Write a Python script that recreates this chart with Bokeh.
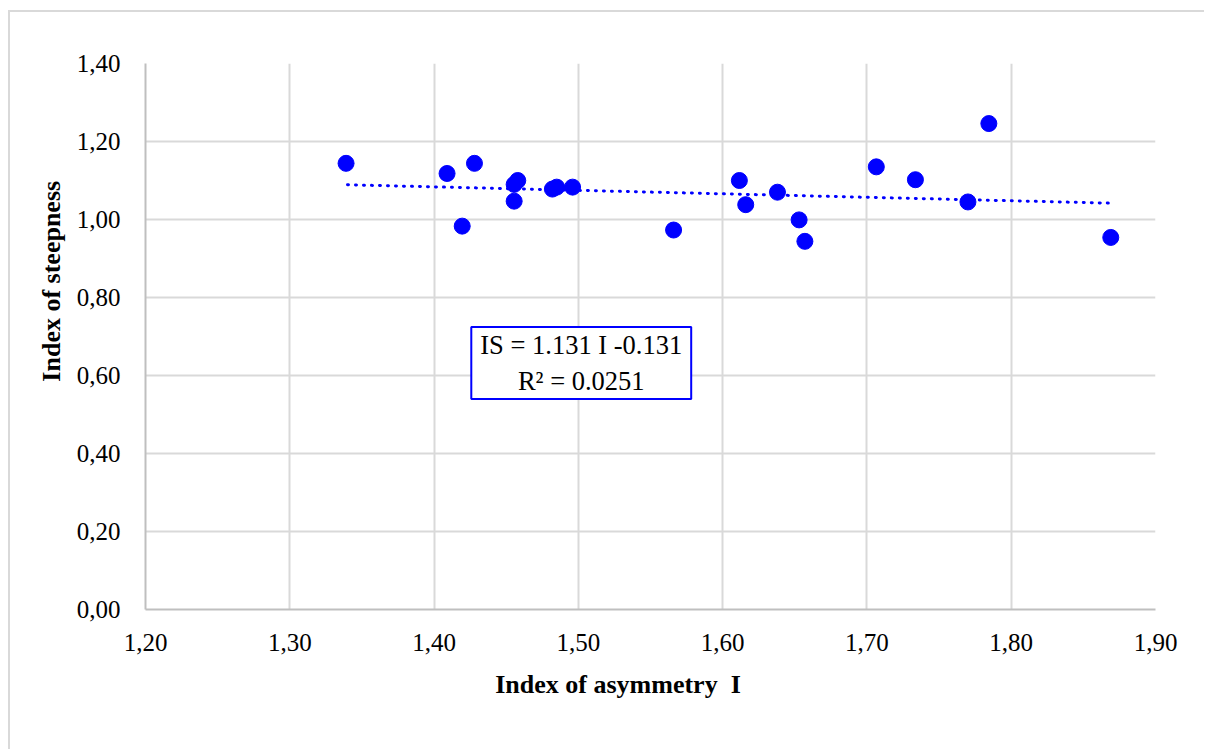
from bokeh.plotting import figure
from bokeh.models import FixedTicker, Label
from bokeh.embed import file_html
from bokeh.resources import INLINE

# ---- data ----
asym = [1.339, 1.409, 1.4195, 1.428, 1.4555, 1.458, 1.4555, 1.482, 1.485, 1.496,
        1.566, 1.6116, 1.616, 1.638, 1.653, 1.657, 1.7065, 1.7336, 1.770, 1.7845, 1.869]
steep = [1.144, 1.118, 0.983, 1.144, 1.090, 1.100, 1.047, 1.078, 1.083, 1.083,
         0.973, 1.100, 1.038, 1.070, 0.999, 0.944, 1.135, 1.102, 1.045, 1.246, 0.954]
trend_x = [1.340, 1.868]
trend_y = [1.089, 1.042]
x_ticks = [1.2, 1.3, 1.4, 1.5, 1.6, 1.7, 1.8, 1.9]
x_tick_labels = ["1,20", "1,30", "1,40", "1,50", "1,60", "1,70", "1,80", "1,90"]
y_ticks = [0.0, 0.2, 0.4, 0.6, 0.8, 1.0, 1.2, 1.4]
y_tick_labels = ["0,00", "0,20", "0,40", "0,60", "0,80", "1,00", "1,20", "1,40"]
eq_text = "IS = 1.131 I -0.131\nR\u00b2 = 0.0251"

FONT = "Liberation Serif"

p = figure(width=1196, height=739, x_range=(1.2, 1.9), y_range=(0.0, 1.4),
           output_backend="svg", toolbar_location=None,
           min_border_left=135, min_border_right=51, min_border_top=51, min_border_bottom=142)
p.styles = {"border-left": "2px solid #d9d9d9", "border-top": "2px solid #d9d9d9",
            "margin-left": "8px", "margin-top": "10px"}

p.outline_line_color = None
p.background_fill_color = "white"
p.border_fill_color = "white"

p.xgrid.grid_line_color = "#d9d9d9"
p.ygrid.grid_line_color = "#d9d9d9"
p.xgrid.grid_line_width = 2
p.ygrid.grid_line_width = 2

p.xaxis.ticker = FixedTicker(ticks=x_ticks)
p.yaxis.ticker = FixedTicker(ticks=y_ticks)
p.xaxis.major_label_overrides = dict(zip(x_ticks, x_tick_labels))
p.yaxis.major_label_overrides = dict(zip(y_ticks, y_tick_labels))

for ax in (p.xaxis, p.yaxis):
    ax.axis_line_color = "#bfbfbf"
    ax.axis_line_width = 2
    ax.major_tick_line_color = None
    ax.minor_tick_line_color = None
    ax.major_label_text_font = FONT
    ax.major_label_text_font_size = "25px"
    ax.major_label_text_color = "black"
    ax.axis_label_text_font = FONT
    ax.axis_label_text_font_size = "26px"
    ax.axis_label_text_font_style = "bold"
    ax.axis_label_text_color = "black"

# non-breaking spaces offset the labels from the frame centre, as in the original
p.xaxis.axis_label = "Index of asymmetry\u00a0\u00a0I" + "\u00a0" * 10
p.yaxis.axis_label = "\u00a0" * 17 + "Index of steepness"
p.xaxis.major_label_standoff = 18
p.yaxis.major_label_standoff = 19
p.xaxis.axis_label_standoff = 16
p.yaxis.axis_label_standoff = 8

p.line(trend_x, trend_y, line_color="#0000ff", line_width=3, line_dash="1 7", line_cap="round")
p.scatter(asym, steep, size=16, fill_color="#0000ff", line_color="#0000ff")

eq = Label(x=1.502, y=0.632, text=eq_text, text_align="center", text_baseline="middle",
           text_font=FONT, text_font_size="26.5px", text_color="black",
           border_line_color="#0000ff", border_line_width=2,
           background_fill_color="white", padding=dict(left=9, right=9, top=3, bottom=3))
p.add_layout(eq)

open("out.html", "w").write(file_html(p, INLINE))
